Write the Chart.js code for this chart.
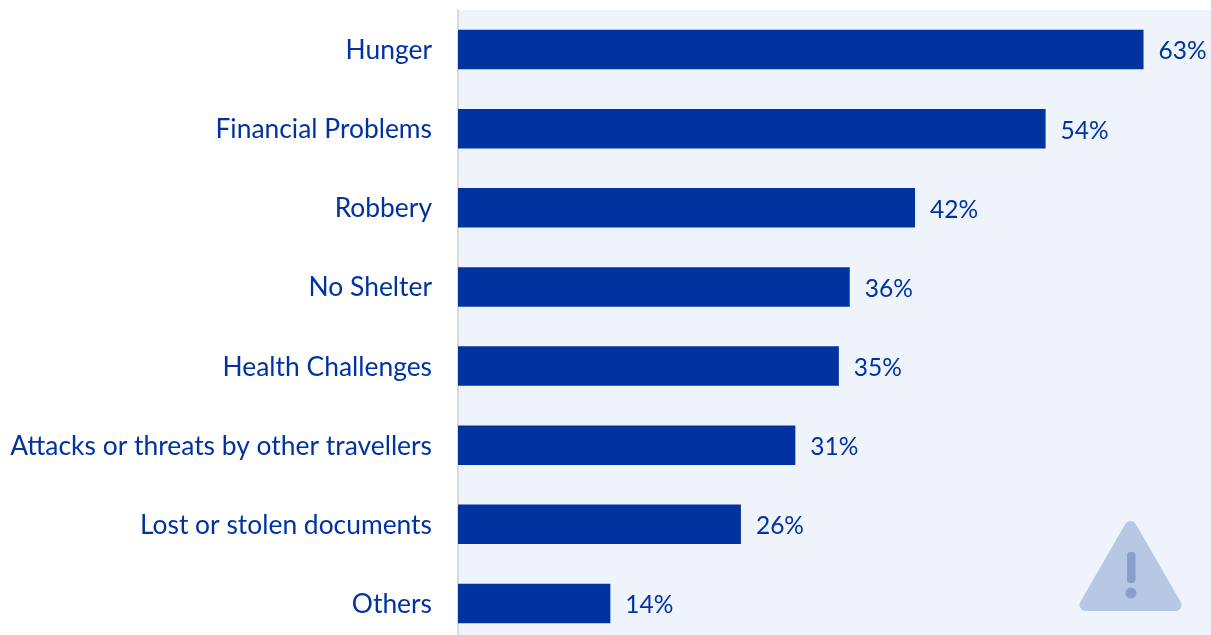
<!DOCTYPE html>
<html>
<head>
<meta charset="utf-8">
<title>Challenges on the journey</title>
<script src="https://cdn.jsdelivr.net/npm/chart.js@4"></script>
<style>
    html, body { margin: 0; padding: 0; background: #fff; overflow: hidden; }
    #wrap { position: relative; width: 1211px; height: 635px; overflow: hidden; }
    #chart { position: absolute; left: 0; top: 0; }
    #icon { position: absolute; left: 0; top: 0; }
</style>
</head>
<body>
<div id="wrap">
    <canvas id="chart" width="1211" height="643"></canvas>
    <svg id="icon" width="1211" height="635">
        <path d="M1130.5 527 L1175.5 605 L1085.5 605 Z" fill="#b7c7e4" stroke="#b7c7e4" stroke-width="12" stroke-linejoin="round"/>
        <rect x="1127" y="552" width="8.5" height="31" rx="3.5" fill="#8b9dc9"/>
        <circle cx="1131" cy="593" r="5.5" fill="#8b9dc9"/>
    </svg>
</div>
<script>
const categories = [
    "Hunger",
    "Financial Problems",
    "Robbery",
    "No Shelter",
    "Health Challenges",
    "Attacks or threats by other travellers",
    "Lost or stolen documents",
    "Others",
];
const values = [63, 54, 42, 36, 35, 31, 26, 14];

const BLUE = "#0033a0";
const FONT = "Lato, sans-serif";

// panel behind the bars
const panel = {
    id: "panel",
    beforeDraw(chart) {
        const { ctx, chartArea: a } = chart;
        ctx.save();
        ctx.fillStyle = "#eff3fb";
        ctx.fillRect(a.left, a.top, a.right - a.left, a.bottom - a.top);
        ctx.restore();
    },
};

// percent label at the end of each bar
const barLabels = {
    id: "barLabels",
    afterDatasetsDraw(chart) {
        const { ctx } = chart;
        ctx.save();
        ctx.fillStyle = BLUE;
        ctx.font = "24.5px " + FONT;
        ctx.textAlign = "left";
        ctx.textBaseline = "middle";
        chart.getDatasetMeta(0).data.forEach((bar, i) => {
            ctx.fillText(values[i] + "%", bar.x + 15, bar.y + 2);
        });
        ctx.restore();
    },
};

new Chart(document.getElementById("chart"), {
    type: "bar",
    data: {
        labels: categories,
        datasets: [
            {
                data: values,
                backgroundColor: BLUE,
                categoryPercentage: 1,
                barPercentage: 0.5,
            },
        ],
    },
    options: {
        indexAxis: "y",
        responsive: false,
        animation: false,
        layout: { padding: { top: 10 } },
        plugins: {
            legend: { display: false },
            tooltip: { enabled: false },
        },
        scales: {
            x: {
                display: false,
                min: 0,
                max: 69.2,
            },
            y: {
                afterFit: (scale) => {
                    // fixed gutter for the labels, no extra room above or below
                    scale.width = 458;
                    scale.paddingTop = 0;
                    scale.paddingBottom = 0;
                },
                grid: { display: false, drawTicks: false },
                border: { display: true, color: "#d9d9d9", width: 2 },
                ticks: {
                    color: BLUE,
                    padding: 26,
                    labelOffset: 1,
                    font: { family: FONT, size: 26.4 },
                },
            },
        },
    },
    plugins: [panel, barLabels],
});
</script>
</body>
</html>
